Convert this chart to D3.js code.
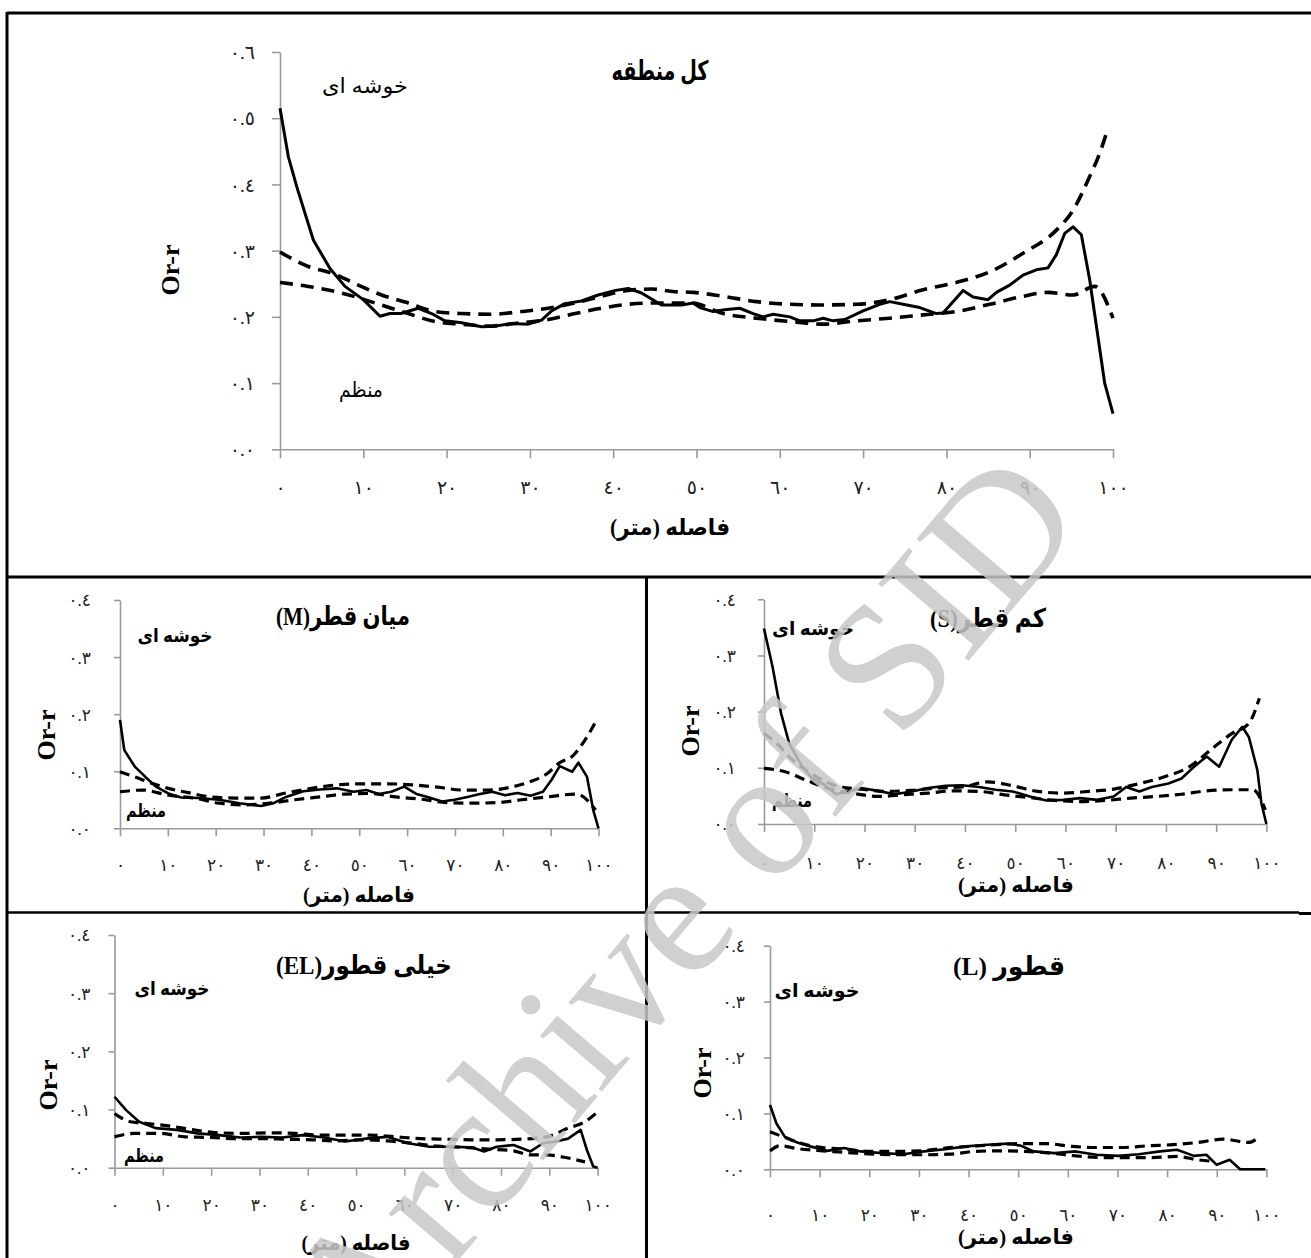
<!DOCTYPE html>
<html><head><meta charset="utf-8">
<script src="https://cdn.jsdelivr.net/npm/d3@7"></script>
<style>body{margin:0;background:#fff}svg{display:block}</style>
</head><body>
<svg id="c" width="1311" height="1258"></svg>
<script>
// ---------- tick values / labels ----------
const xTickValues = [0,10,20,30,40,50,60,70,80,90,100];
const xTickLabels = ["٠","١٠","٢٠","٣٠","٤٠","٥٠","٦٠","٧٠","٨٠","٩٠","١٠٠"];
const yTickValuesTop = [0,0.1,0.2,0.3,0.4,0.5,0.6];
const yTickLabelsTop = ["٠.٠","٠.١","٠.٢","٠.٣","٠.٤","٠.٥","٠.٦"];
const yTickValuesSmall = [0,0.1,0.2,0.3,0.4];
const yTickLabelsSmall = ["٠.٠","٠.١","٠.٢","٠.٣","٠.٤"];

// ---------- texts ----------
const panelTitles = ["کل منطقه","میان قطر(M)","کم قطر(S)","خیلی قطور(EL)","قطور (L)"];
const clusteredLabel = "خوشه ای";
const regularLabel = "منظم";
const xAxisTitle = "فاصله (متر)";
const yAxisTitle = "Or-r";
const watermarkText = "Archive of SID";

// ---------- series: [distance, Or-r] ----------
const totalObserved = [[0,0.515],[1,0.442],[2,0.397],[4,0.316],[6,0.273],[7.8,0.246],[10,0.226],[12,0.201],[13.2,0.205],[14.5,0.205],[16.6,0.213],[18.2,0.205],[19.8,0.194],[21.8,0.191],[24.2,0.185],[25.8,0.186],[27.8,0.19],[29.8,0.189],[31.4,0.195],[32.6,0.209],[34.2,0.22],[36.2,0.224],[38.2,0.233],[40.3,0.24],[41.8,0.243],[43.4,0.236],[45.8,0.218],[48.2,0.218],[49.6,0.221],[50.4,0.214],[52,0.208],[53.6,0.211],[55.2,0.213],[56.8,0.205],[58,0.2],[59.2,0.204],[61.2,0.2],[62.4,0.194],[64,0.194],[65.2,0.198],[66.4,0.194],[67.8,0.196],[70,0.209],[72,0.219],[73.2,0.223],[74.8,0.219],[76.8,0.214],[78.8,0.205],[79.6,0.206],[82,0.24],[83.2,0.23],[85,0.226],[86,0.237],[87.6,0.248],[89.2,0.263],[90.8,0.271],[92.2,0.274],[93.2,0.294],[94.2,0.326],[95.2,0.336],[96.2,0.324],[97.2,0.256],[99,0.1],[100,0.054]];
const totalUpper = [[0,0.298],[3.4,0.276],[6.2,0.266],[9.4,0.248],[12.2,0.233],[15.4,0.221],[18.6,0.208],[21.8,0.205],[25.4,0.204],[29,0.208],[32.2,0.213],[35.4,0.221],[38.6,0.231],[41.8,0.24],[44.6,0.242],[47.4,0.238],[49.6,0.237],[53.2,0.231],[57.2,0.223],[61.2,0.219],[65.2,0.218],[69.2,0.219],[73.2,0.226],[77.2,0.241],[81.2,0.252],[85.2,0.268],[89.2,0.296],[93.2,0.331],[95.2,0.361],[97.2,0.412],[98.4,0.447],[99.2,0.477]];
const totalLower = [[0,0.252],[3.4,0.246],[7.4,0.236],[11.4,0.221],[15.4,0.205],[18.6,0.193],[21.8,0.189],[25,0.186],[28.2,0.19],[32.2,0.196],[35.4,0.205],[38.6,0.213],[41.8,0.219],[45.4,0.221],[49.4,0.221],[53.2,0.205],[57.2,0.198],[61.2,0.193],[65.2,0.189],[69.2,0.194],[73.2,0.198],[77.2,0.203],[81.2,0.208],[85.2,0.219],[89.2,0.231],[92.2,0.237],[95.2,0.233],[97.8,0.246],[100,0.198]];

const mObserved = [[0,0.19],[0.9,0.137],[3.1,0.108],[5.3,0.09],[7.5,0.073],[10.1,0.061],[12.8,0.054],[16.3,0.053],[20.7,0.05],[25,0.044],[29.5,0.039],[32.1,0.044],[34.7,0.055],[38.3,0.065],[41.8,0.068],[45.3,0.07],[48.8,0.064],[51.5,0.067],[54.1,0.06],[56.7,0.064],[59.4,0.073],[62,0.06],[64.6,0.054],[67.3,0.047],[69.9,0.05],[72.6,0.055],[75.2,0.06],[77.8,0.064],[80.5,0.058],[83.1,0.062],[85.8,0.057],[88.4,0.064],[90.2,0.085],[91.9,0.109],[94.5,0.099],[95.8,0.115],[97.6,0.09],[98.9,0.032],[100,0]];
const mUpper = [[0,0.099],[3.1,0.09],[6.6,0.079],[10.1,0.07],[14.5,0.062],[18.9,0.055],[24.2,0.053],[29.5,0.053],[34.7,0.062],[40,0.07],[45.3,0.076],[50.6,0.078],[55.8,0.078],[61.1,0.076],[66.4,0.072],[71.7,0.067],[77,0.067],[82.2,0.073],[85.8,0.082],[89.3,0.096],[91.9,0.115],[94.5,0.126],[97.2,0.155],[99.8,0.193]];
const mLower = [[0,0.064],[4.8,0.067],[10.1,0.058],[15.4,0.053],[20.7,0.044],[26,0.041],[31.2,0.044],[36.5,0.05],[41.8,0.055],[47,0.06],[52.3,0.061],[57.6,0.055],[62.9,0.051],[68.2,0.045],[73.4,0.044],[78.7,0.045],[84,0.05],[89.3,0.055],[95.4,0.06],[99.4,0.032]];

const sObserved = [[0,0.348],[1.7,0.28],[3.4,0.197],[5,0.144],[7.6,0.102],[9.6,0.081],[11.7,0.072],[14.3,0.053],[16.8,0.058],[19.3,0.064],[22.7,0.059],[26,0.053],[29.4,0.058],[32.7,0.064],[36.1,0.068],[39.4,0.069],[42.8,0.066],[46.1,0.061],[49.5,0.058],[52.9,0.049],[56.2,0.042],[59.6,0.043],[62.9,0.046],[66.3,0.043],[69.6,0.049],[72.1,0.066],[74.7,0.058],[77.2,0.066],[80.5,0.072],[83.1,0.081],[85.6,0.102],[88.1,0.12],[90.6,0.102],[93.1,0.15],[95.2,0.173],[96.5,0.155],[98.2,0.096],[99,0.037],[100,0]];
const sUpper = [[0,0.161],[2.5,0.144],[5,0.12],[8.4,0.096],[11.7,0.078],[15.1,0.066],[19.3,0.062],[24.3,0.058],[29.4,0.06],[34.4,0.064],[39.4,0.066],[44.5,0.075],[49.5,0.068],[54.5,0.058],[59.6,0.055],[64.6,0.058],[69.6,0.062],[74.7,0.072],[79.7,0.084],[84.7,0.102],[88.9,0.132],[93.1,0.161],[96.5,0.179],[98.6,0.224]];
const sLower = [[0,0.099],[4.2,0.093],[8.4,0.078],[12.6,0.064],[17.6,0.055],[22.7,0.049],[27.7,0.052],[32.7,0.055],[37.8,0.059],[42.8,0.058],[47.8,0.052],[52.9,0.047],[57.9,0.042],[62.9,0.04],[68,0.042],[73,0.046],[78,0.049],[83.1,0.053],[88.1,0.059],[93.1,0.061],[97.3,0.061],[99.8,0.025]];

const elObserved = [[0,0.122],[2.4,0.099],[5.1,0.079],[8.5,0.068],[12.9,0.065],[17.2,0.059],[21.6,0.056],[26,0.052],[30.3,0.053],[34.7,0.052],[39,0.056],[43.4,0.052],[47.7,0.045],[52.1,0.05],[56.4,0.053],[60.8,0.042],[65.2,0.036],[69.5,0.036],[73.9,0.035],[76.5,0.028],[79.1,0.036],[82.6,0.039],[86.1,0.028],[88.7,0.042],[91.3,0.045],[93.9,0.05],[96.5,0.065],[97.8,0.03],[99.1,0.002],[100,0]];
const elUpper = [[0,0.093],[3.3,0.079],[6.8,0.076],[11.1,0.072],[16.4,0.065],[21.6,0.06],[26.8,0.059],[32.1,0.06],[37.3,0.059],[42.5,0.056],[47.7,0.056],[53,0.056],[58.2,0.053],[63.4,0.05],[68.6,0.049],[73.9,0.048],[79.1,0.048],[84.3,0.049],[89.5,0.053],[93.9,0.068],[97.4,0.079],[100,0.096]];
const elLower = [[0,0.053],[4.2,0.059],[9.4,0.059],[14.6,0.053],[19.9,0.052],[25.1,0.05],[30.3,0.05],[35.5,0.049],[40.8,0.048],[46,0.046],[51.2,0.048],[56.4,0.046],[61.7,0.042],[66.9,0.037],[72.1,0.035],[77.4,0.032],[82.6,0.029],[86.1,0.022],[89.5,0.022],[93,0.018],[97.4,0.01]];

const lObserved = [[0,0.115],[1.3,0.082],[3,0.058],[5.5,0.048],[8.1,0.041],[11.5,0.033],[14.9,0.038],[18.3,0.032],[22.5,0.029],[26.8,0.027],[31,0.032],[35.3,0.036],[39.5,0.041],[43.8,0.044],[48,0.046],[50.6,0.042],[53.1,0.032],[57.3,0.029],[61.6,0.032],[65.8,0.026],[70.1,0.024],[74.3,0.027],[78.6,0.032],[82,0.035],[85.4,0.024],[87.9,0.026],[90,0.008],[92.6,0.017],[94.7,0],[99.8,0]];
const lUpper = [[0,0.067],[3,0.057],[6.4,0.046],[10.6,0.039],[14.9,0.036],[20,0.032],[25.1,0.032],[30.2,0.033],[35.3,0.038],[40.4,0.041],[45.5,0.044],[50.6,0.046],[55.6,0.046],[60.7,0.041],[65.8,0.039],[70.9,0.039],[76,0.042],[81.1,0.044],[86.2,0.048],[91.3,0.054],[96.4,0.048],[98.1,0.055]];
const lLower = [[0,0.033],[2,0.042],[5.5,0.037],[10.6,0.033],[15.7,0.03],[20.8,0.027],[25.9,0.026],[31,0.026],[36.1,0.027],[41.2,0.032],[46.3,0.033],[51.4,0.032],[56.5,0.029],[61.6,0.024],[66.7,0.021],[71.8,0.021],[76.9,0.021],[82,0.023],[86.2,0.017],[89.6,0.014]];

// ---------- layout ----------
const FONT = "'Liberation Serif','Times New Roman','DejaVu Sans',serif";
const svg = d3.select("#c");

const panels = [
  {title:panelTitles[0], obs:totalObserved, up:totalUpper, lo:totalLower,
   x0:280, x1:1113, yBase:449.3, yTop:52, yMax:0.6, yTV:yTickValuesTop, yTL:yTickLabelsTop,
   tickFs:19, xLabY:487, yLabOff:25, xTickLen:9, yTickLen:8,
   titleXY:[660,71], titleFs:27, titleW:97, clusXY:[365,86], clusW:86, regXY:[361,390], regW:44, labFs:21, labW:"normal",
   xTitleXY:[670,527], xTitleW:120, xTitleFs:23, yTitleXY:[170,270], dash:"13,8", wObs:3, wDash:3.6},
  {title:panelTitles[1], obs:mObserved, up:mUpper, lo:mLower,
   x0:120, x1:598.5, yBase:828.3, yTop:600, yMax:0.4, yTV:yTickValuesSmall, yTL:yTickLabelsSmall,
   tickFs:17, xLabY:865, yLabOff:29, xTickLen:8, yTickLen:6,
   titleXY:[343,616], titleFs:26, titleW:134, clusXY:[175,635], clusW:75, regXY:[146,810], regW:40, labFs:19, labW:"bold",
   xTitleXY:[359,895], xTitleW:112, xTitleFs:21, yTitleXY:[46,735], dash:"10,6", wObs:2.6, wDash:3.2},
  {title:panelTitles[2], obs:sObserved, up:sUpper, lo:sLower,
   x0:764, x1:1266.4, yBase:824, yTop:599.3, yMax:0.4, yTV:yTickValuesSmall, yTL:yTickLabelsSmall,
   tickFs:17, xLabY:863, yLabOff:28, xTickLen:8, yTickLen:6,
   titleXY:[988,618], titleFs:26, titleW:116, clusXY:[813,628], clusW:82, regXY:[792,800], regW:40, labFs:19, labW:"bold",
   xTitleXY:[1016,885], xTitleW:116, xTitleFs:21, yTitleXY:[690,731], dash:"10,6", wObs:2.6, wDash:3.2},
  {title:panelTitles[3], obs:elObserved, up:elUpper, lo:elLower,
   x0:114.5, x1:597.6, yBase:1167.7, yTop:935, yMax:0.4, yTV:yTickValuesSmall, yTL:yTickLabelsSmall,
   tickFs:17, xLabY:1205, yLabOff:24, xTickLen:8, yTickLen:6,
   titleXY:[364,965], titleFs:26, titleW:176, clusXY:[172,988], clusW:75, regXY:[144,1155], regW:40, labFs:19, labW:"bold",
   xTitleXY:[356,1243], xTitleW:109, xTitleFs:21, yTitleXY:[48,1085], dash:"10,6", wObs:2.6, wDash:3.2},
  {title:panelTitles[4], obs:lObserved, up:lUpper, lo:lLower,
   x0:770, x1:1266.4, yBase:1169.3, yTop:945.7, yMax:0.4, yTV:yTickValuesSmall, yTL:yTickLabelsSmall,
   tickFs:17, xLabY:1215, yLabOff:25, xTickLen:8, yTickLen:6,
   titleXY:[1009,966], titleFs:26, titleW:112, clusXY:[817,990], clusW:85, regXY:null, labFs:19, labW:"bold",
   xTitleXY:[1016,1237], xTitleW:116, xTitleFs:21, yTitleXY:[702,1073], dash:"10,6", wObs:2.6, wDash:3.2}
];

// frame
const frame = svg.append("g").attr("stroke","#000").attr("fill","none");
frame.append("line").attr("x1",7).attr("y1",13).attr("x2",1311).attr("y2",13).attr("stroke-width",3);
frame.append("line").attr("x1",7).attr("y1",12).attr("x2",7).attr("y2",1258).attr("stroke-width",3);
frame.append("line").attr("x1",7).attr("y1",577).attr("x2",1311).attr("y2",577).attr("stroke-width",3);
frame.append("line").attr("x1",646.5).attr("y1",577).attr("x2",646.5).attr("y2",1258).attr("stroke-width",3);
frame.append("line").attr("x1",7).attr("y1",912.5).attr("x2",1299).attr("y2",912.5).attr("stroke-width",2.5);
frame.append("line").attr("x1",1299).attr("y1",913.5).attr("x2",1311).attr("y2",913.5).attr("stroke-width",3);

function arText(g, str, xy, fs, weight, width) {
  const t = g.append("text").attr("x",xy[0]).attr("y",xy[1]).attr("dy","0.35em")
    .attr("text-anchor","middle").attr("direction","rtl")
    .style("unicode-bidi","embed")
    .attr("font-family",FONT).attr("font-size",fs).attr("font-weight",weight)
    .attr("fill","#000").text(str);
  if (width) t.attr("textLength",width).attr("lengthAdjust","spacingAndGlyphs");
  return t;
}

panels.forEach(p => {
  const g = svg.append("g");
  const x = d3.scaleLinear().domain([0,100]).range([p.x0,p.x1]);
  const y = d3.scaleLinear().domain([0,p.yMax]).range([p.yBase,p.yTop]);

  const xa = g.append("g").attr("transform",`translate(0,${p.yBase})`)
    .call(d3.axisBottom(x).tickValues(xTickValues).tickFormat((d,i)=>xTickLabels[i])
      .tickSize(p.xTickLen).tickSizeOuter(0));
  xa.selectAll("text").attr("y",p.xLabY-p.yBase).attr("dy","0.35em");
  const ya = g.append("g").attr("transform",`translate(${p.x0},0)`)
    .call(d3.axisLeft(y).tickValues(p.yTV).tickFormat((d,i)=>p.yTL[i])
      .tickSize(p.yTickLen).tickSizeOuter(0));
  ya.selectAll("text").attr("x",-p.yLabOff).attr("dy","0.35em");
  [xa,ya].forEach(a=>{
    a.select(".domain").attr("stroke","#9a9a9a").attr("stroke-width",1.6);
    a.selectAll(".tick line").attr("stroke","#9a9a9a").attr("stroke-width",1.6);
    a.selectAll("text").attr("font-family",FONT).attr("font-size",p.tickFs).attr("fill","#222");
  });

  const line = d3.line().x(d=>x(d[0])).y(d=>y(d[1]));
  const smooth = d3.line().x(d=>x(d[0])).y(d=>y(d[1])).curve(d3.curveMonotoneX);
  g.append("path").datum(p.up).attr("d",smooth).attr("fill","none").attr("stroke","#000")
    .attr("stroke-width",p.wDash).attr("stroke-dasharray",p.dash);
  g.append("path").datum(p.lo).attr("d",smooth).attr("fill","none").attr("stroke","#000")
    .attr("stroke-width",p.wDash).attr("stroke-dasharray",p.dash);
  g.append("path").datum(p.obs).attr("d",line).attr("fill","none").attr("stroke","#000")
    .attr("stroke-width",p.wObs).attr("stroke-linejoin","round");

  arText(g, p.title, p.titleXY, p.titleFs, "bold", p.titleW);
  arText(g, clusteredLabel, p.clusXY, p.labFs, p.labW, p.clusW);
  if (p.regXY) arText(g, regularLabel, p.regXY, p.labFs, p.labW, p.regW);
  arText(g, xAxisTitle, p.xTitleXY, p.xTitleFs, "bold", p.xTitleW);
  g.append("text").attr("transform",`translate(${p.yTitleXY[0]},${p.yTitleXY[1]}) rotate(-90)`)
    .attr("text-anchor","middle").attr("dy","0.35em").attr("font-family",FONT)
    .attr("font-weight","bold").attr("font-size",26).text(yAxisTitle);
});

// watermark
svg.append("text").attr("transform","translate(685,910) rotate(-49.6)")
  .attr("text-anchor","middle").attr("dy","0.3em")
  .attr("font-family","'Liberation Serif',serif").attr("font-size",181)
  .attr("fill","#c8c8c8").attr("opacity",0.85).text(watermarkText);
</script>
</body></html>
